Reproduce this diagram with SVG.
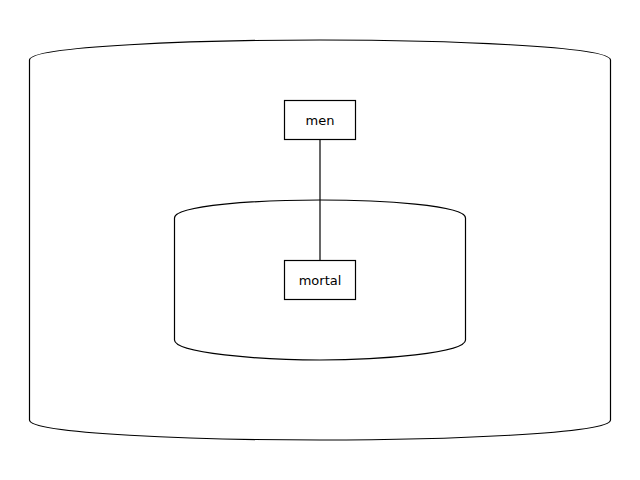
<svg xmlns="http://www.w3.org/2000/svg" width="640" height="480" viewBox="0 0 640 480">
<style>
.shape{fill:none;stroke:#000;stroke-width:1.2}
.box{fill:#fff;stroke:#000;stroke-width:1.2}
.lbl{font-family:"DejaVu Sans",sans-serif;font-size:13px;fill:#000;text-anchor:middle;dominant-baseline:central}
.edge{stroke:#000;stroke-width:1.2;fill:none}
</style>
<rect width="640" height="480" fill="#fff"/>
<g id="outer">
<path class="shape" d="M29.5,420 L29.5,60 C29.5,46 200,40 320,40 C440,40 610.5,46 610.5,60 L610.5,420 C610.5,434 440,440 320,440 C200,440 29.5,434 29.5,420 Z"/>
</g>
<g id="inner">
<path class="shape" d="M174.5,340 L174.5,218 C174.5,205 260,200 320,200 C380,200 465.5,205 465.5,218 L465.5,340 C465.5,353 380,360 320,360 C260,360 174.5,353 174.5,340 Z"/>
</g>
<g id="connectors">
<line class="edge" x1="320" y1="140" x2="320" y2="260"/>
</g>
<g id="men">
<rect class="box" x="284.5" y="100.5" width="71" height="39"/>
<text class="lbl" x="320" y="120">men</text>
</g>
<g id="mortal">
<rect class="box" x="284.5" y="260.5" width="71" height="39"/>
<text class="lbl" x="320" y="280">mortal</text>
</g>
</svg>
